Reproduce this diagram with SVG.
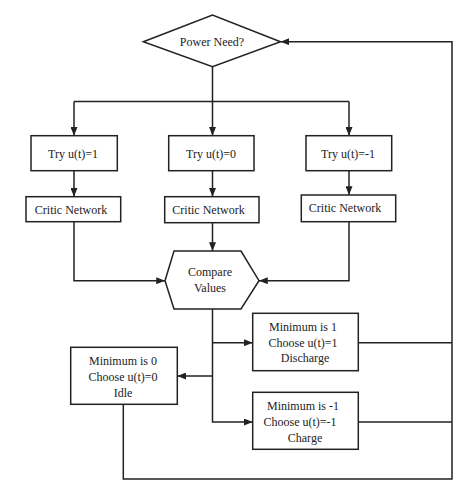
<svg xmlns="http://www.w3.org/2000/svg" width="474" height="499" viewBox="0 0 474 499">
<style>
.n{fill:#fff;stroke:#222;stroke-width:1.5}
.c{fill:none;stroke:#222;stroke-width:1.5}
.a{marker-end:url(#ah)}
text{font-family:"Liberation Serif","Times New Roman",serif;font-size:12px;fill:#222;text-anchor:middle;dominant-baseline:central}
</style>
<defs>
<marker id="ah" viewBox="0 0 10 8" refX="10" refY="4" markerWidth="9" markerHeight="7" markerUnits="userSpaceOnUse" orient="auto">
<path d="M0,0 L10,4 L0,8 z" fill="#222"/>
</marker>
</defs>
<rect width="474" height="499" fill="#fff"/>
<g id="connectors">
<path class="c" d="M212.5,66.7 V101.5 M74,101.5 H349"/>
<path class="c a" d="M74,101.5 V135.7"/>
<path class="c a" d="M212.5,101.5 V135.7"/>
<path class="c a" d="M349,101.5 V135.7"/>
<path class="c a" d="M74,170.7 V196.7"/>
<path class="c a" d="M212.5,170.7 V196.7"/>
<path class="c a" d="M349,170.7 V195"/>
<path class="c a" d="M74,221.7 V280.7 H165"/>
<path class="c a" d="M212.5,222.7 V251"/>
<path class="c a" d="M349,221.7 V280.7 H259"/>
<path class="c a" d="M212.5,309 V422 H252.7"/>
<path class="c a" d="M212.5,342.7 H252.7"/>
<path class="c a" d="M212.5,376 H177.3"/>
<path class="c" d="M358.3,342.7 H452 M358.3,422 H452"/>
<path class="c a" d="M123.3,404.3 V479 H452 V41.7 H280.5"/>
</g>
<g id="power-need">
<polygon class="n" points="143.3,41.7 212.5,15 280.5,41.7 212.5,66.7"/>
<text x="212" y="42">Power Need?</text>
</g>
<g id="try1">
<rect class="n" x="31" y="135.7" width="86.3" height="35"/>
<text x="73" y="153.5">Try u(t)=1</text>
</g>
<g id="try0">
<rect class="n" x="168.7" y="135.7" width="85.3" height="35"/>
<text x="211" y="153.5">Try u(t)=0</text>
</g>
<g id="try-1">
<rect class="n" x="306" y="135.7" width="85.7" height="35"/>
<text x="348" y="153.5">Try u(t)=-1</text>
</g>
<g id="critic1">
<rect class="n" x="26" y="196.7" width="94.7" height="25"/>
<text x="71" y="209.5">Critic Network</text>
</g>
<g id="critic2">
<rect class="n" x="164.7" y="196.7" width="94.3" height="26"/>
<text x="208.5" y="209.5">Critic Network</text>
</g>
<g id="critic3">
<rect class="n" x="301.3" y="195" width="94.4" height="26.7"/>
<text x="345" y="208">Critic Network</text>
</g>
<g id="compare">
<polygon class="n" points="174,251 241,251 259,280.7 241,309 174,309 165,280.7"/>
<text x="210" y="272.3">Compare</text>
<text x="210" y="287.5">Values</text>
</g>
<g id="min1">
<rect class="n" x="252.7" y="313.3" width="105.6" height="57.4"/>
<text x="303" y="327.3">Minimum is 1</text>
<text x="303" y="342.7">Choose u(t)=1</text>
<text x="305" y="358.3">Discharge</text>
</g>
<g id="min0">
<rect class="n" x="70.7" y="347.3" width="106.6" height="57"/>
<text x="123" y="360.7">Minimum is 0</text>
<text x="123" y="376.7">Choose u(t)=0</text>
<text x="123" y="392.5">Idle</text>
</g>
<g id="min-1">
<rect class="n" x="252.7" y="392.3" width="105.6" height="57"/>
<text x="303" y="406">Minimum is -1</text>
<text x="300" y="422">Choose u(t)=-1</text>
<text x="305" y="437.7">Charge</text>
</g>
</svg>
